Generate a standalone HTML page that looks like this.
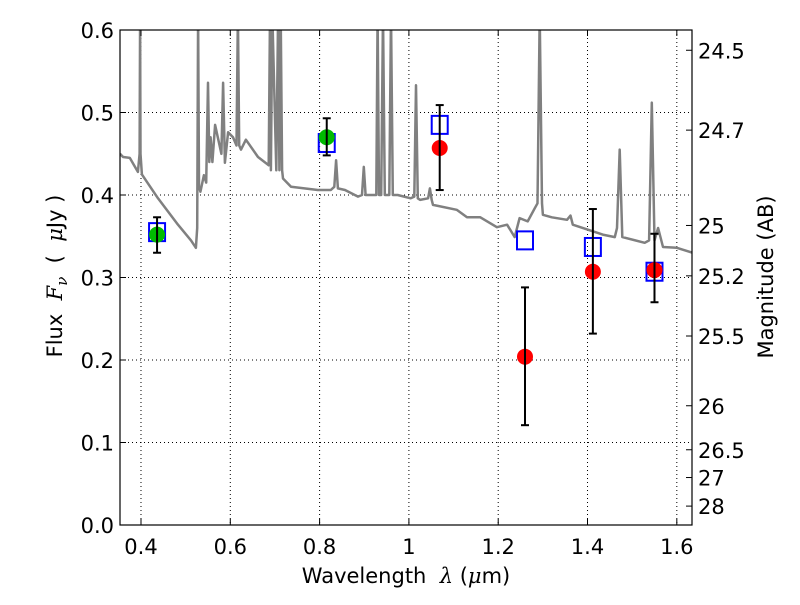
<!DOCTYPE html>
<html><head><meta charset="utf-8"><style>
body{margin:0;background:#fff}
svg{font-family:"DejaVu Sans","Liberation Sans",sans-serif}
</style></head><body>
<svg id="chart" width="800" height="600" viewBox="0 0 800 600">
<rect width="800" height="600" fill="#fff"/>
<g id="grid"></g>
<g id="spec"></g>
<g id="marks"></g>
<g id="axes"></g>
<text x="406" y="583" font-size="21" text-anchor="middle">Wavelength&#160;&#160;<tspan font-family="'DejaVu Serif',serif" font-style="italic">λ</tspan>&#160;(<tspan font-family="'DejaVu Serif',serif" font-style="italic">μ</tspan>m)</text>
<text transform="translate(62,276) rotate(-90)" font-size="21" text-anchor="middle">Flux&#160;&#160;<tspan font-family="'DejaVu Serif',serif" font-style="italic">F<tspan font-size="15" dy="5">ν</tspan></tspan><tspan dy="-5">&#160;&#160;(&#160;&#160;</tspan><tspan font-family="'DejaVu Serif',serif" font-style="italic">μ</tspan>Jy&#160;)</text>
<text transform="translate(773,277) rotate(-90)" font-size="21" text-anchor="middle">Magnitude (AB)</text>
</svg>
<script>
const xTicks=[0.4,0.6,0.8,1.0,1.2,1.4,1.6];
const xTickLabels=["0.4","0.6","0.8","1","1.2","1.4","1.6"];
const yTicks=[0,0.1,0.2,0.3,0.4,0.5,0.6];
const yTickLabels=["0.0","0.1","0.2","0.3","0.4","0.5","0.6"];
const magTicks=[24.5,24.7,25,25.2,25.5,26,26.5,27,28];
const specWave=[0.353,0.36,0.375,0.393,0.397,0.398,0.399,0.402,0.438,0.483,0.512,0.523,0.526,0.528,0.53,0.533,0.541,0.546,0.55,0.553,0.556,0.56,0.566,0.572,0.58,0.584,0.588,0.595,0.606,0.614,0.617,0.62,0.624,0.635,0.662,0.686,0.689,0.691,0.694,0.703,0.707,0.71,0.713,0.716,0.718,0.736,0.796,0.825,0.833,0.837,0.841,0.857,0.886,0.895,0.899,0.903,0.924,0.927,0.93,0.933,0.938,0.942,0.946,0.956,0.96,0.964,0.975,1.004,1.012,1.016,1.02,1.025,1.043,1.047,1.051,1.054,1.107,1.13,1.16,1.197,1.22,1.237,1.248,1.266,1.282,1.288,1.293,1.298,1.3,1.32,1.354,1.362,1.367,1.434,1.461,1.466,1.472,1.478,1.528,1.538,1.544,1.55,1.558,1.569,1.6,1.636];
const specFlux=[0.45,0.446,0.445,0.428,0.45,0.62,0.45,0.425,0.396,0.364,0.345,0.336,0.36,0.62,0.41,0.404,0.424,0.415,0.536,0.44,0.47,0.44,0.485,0.47,0.45,0.536,0.439,0.476,0.47,0.46,0.62,0.46,0.455,0.467,0.446,0.436,0.62,0.43,0.62,0.43,0.62,0.43,0.62,0.43,0.42,0.41,0.406,0.406,0.41,0.442,0.408,0.406,0.398,0.4,0.434,0.4,0.4,0.4,0.62,0.4,0.4,0.62,0.4,0.4,0.62,0.4,0.4,0.396,0.398,0.533,0.396,0.394,0.396,0.408,0.394,0.388,0.382,0.373,0.373,0.361,0.364,0.349,0.372,0.368,0.384,0.39,0.62,0.39,0.376,0.373,0.37,0.375,0.364,0.352,0.349,0.36,0.455,0.349,0.342,0.345,0.512,0.345,0.36,0.337,0.336,0.33];
const obsWave=[0.436,0.816,1.069,1.26,1.412,1.55];
const obsFlux=[0.352,0.47,0.457,0.204,0.307,0.309];
const obsLow=[0.33,0.448,0.406,0.121,0.232,0.27];
const obsHigh=[0.373,0.493,0.509,0.288,0.383,0.353];
const obsColor=["#00bb00","#00bb00","#ff0000","#ff0000","#ff0000","#ff0000"];
const modelFlux=[0.355,0.463,0.485,0.345,0.337,0.307];

const L=120,R=692,T=30,B=525,x0=0.353,x1=1.634,y0=0,y1=0.6;
const sx=v=>L+(v-x0)/(x1-x0)*(R-L);
const sy=v=>B-(v-y0)/(y1-y0)*(B-T);
const NS="http://www.w3.org/2000/svg";
function mk(tag,attrs,parent){const e=document.createElementNS(NS,tag);for(const k in attrs)e.setAttribute(k,attrs[k]);parent.appendChild(e);return e;}
const grid=document.getElementById('grid'),axes=document.getElementById('axes'),spec=document.getElementById('spec'),marks=document.getElementById('marks');

xTicks.forEach((t,i)=>{const x=sx(t);
 const g=mk('line',{x1:x,x2:x,y1:T,y2:B,stroke:'#000','stroke-dasharray':'1,3','stroke-width':1},grid);
 
 
 mk('line',{x1:x,x2:x,y1:B,y2:B-6,stroke:'#000'},axes);
 mk('line',{x1:x,x2:x,y1:T,y2:T+6,stroke:'#000'},axes);
 const tx=mk('text',{x:x,y:B+29,'font-size':21,'text-anchor':'middle'},axes);tx.textContent=xTickLabels[i];
 
 
});
yTicks.forEach((t,i)=>{const y=sy(t);
 if(t>0&&t<0.6){const g=mk('line',{x1:L,x2:R,y1:y,y2:y,stroke:'#000','stroke-dasharray':'1,3','stroke-width':1},grid);
 
 }
 mk('line',{x1:L,x2:L+6,y1:y,y2:y,stroke:'#000'},axes);
 const tx=mk('text',{x:L-6,y:y+8,'font-size':21,'text-anchor':'end'},axes);tx.textContent=yTickLabels[i];
 
 
});
magTicks.forEach(m=>{const f=Math.pow(10,(23.9-m)/2.5);const y=sy(f);
 mk('line',{x1:R,x2:R-6,y1:y,y2:y,stroke:'#000'},axes);
 const tx=mk('text',{x:R+6,y:y+8,'font-size':21},axes);tx.textContent=String(m);
 
 
});
const fr=mk('rect',{x:L,y:T,width:R-L,height:B-T,fill:'none',stroke:'#000','stroke-width':1.2},axes);



const defs=mk('clipPath',{id:'clip'},spec);mk('rect',{x:L,y:T,width:R-L,height:B-T},defs);
const pts=specWave.map((w,i)=>sx(w).toFixed(1)+','+sy(specFlux[i]).toFixed(1)).join(' ');
const pl=mk('polyline',{points:pts,fill:'none',stroke:'#808080','stroke-width':2.5,'stroke-linejoin':'round','clip-path':'url(#clip)'},spec);



obsWave.forEach((w,i)=>{const x=sx(w);
 const s=mk('rect',{x:x-8,y:sy(modelFlux[i])-9,width:16,height:18,fill:'none',stroke:'#0000ff','stroke-width':2},marks);
 
 
 const c=mk('circle',{cx:x,cy:sy(obsFlux[i]),r:8,fill:obsColor[i]},marks);
 
 
 const e=mk('g',{stroke:'#000','stroke-width':2},marks);
 
 
 mk('line',{x1:x,x2:x,y1:sy(obsLow[i]),y2:sy(obsHigh[i])},e);
 mk('line',{x1:x-4,x2:x+4,y1:sy(obsLow[i]),y2:sy(obsLow[i])},e);
 mk('line',{x1:x-4,x2:x+4,y1:sy(obsHigh[i]),y2:sy(obsHigh[i])},e);
});
</script>
</body></html>
